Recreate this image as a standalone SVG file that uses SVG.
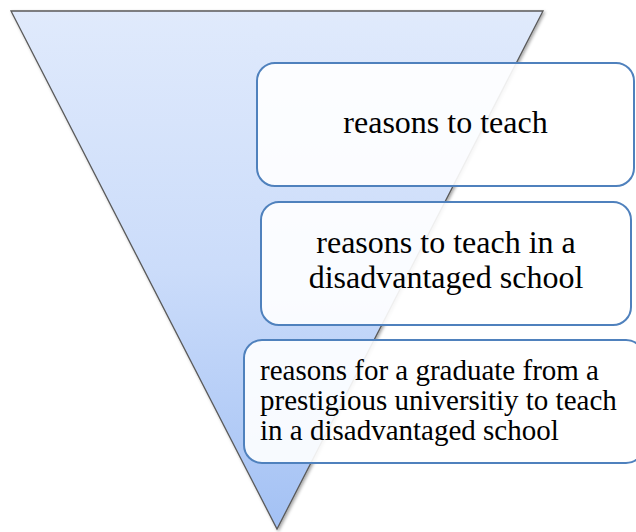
<svg xmlns="http://www.w3.org/2000/svg" width="636" height="532" viewBox="0 0 636 532">
  <defs>
    <linearGradient id="funnelFill" x1="0" y1="0" x2="0" y2="1">
      <stop offset="0" stop-color="#e0eafc"/>
      <stop offset="0.5" stop-color="#cbdcfa"/>
      <stop offset="1" stop-color="#a3c1f4"/>
    </linearGradient>
    <filter id="soft" x="-10%" y="-10%" width="120%" height="120%">
      <feDropShadow dx="1.5" dy="1.5" stdDeviation="1.5" flood-color="#000" flood-opacity="0.35"/>
    </filter>
  </defs>
  <style>
    .box { fill: #ffffff; fill-opacity: 0.9; stroke: #4f81bd; stroke-width: 2; }
    .label { font-family: "Liberation Serif", "Times New Roman", serif; fill: #000; }
  </style>

  <!-- inverted triangle backdrop -->
  <g id="funnel">
    <polygon points="11,11 543,11 277,529" fill="url(#funnelFill)" stroke="#5a5a5a" stroke-width="1.3" filter="url(#soft)"/>
  </g>

  <g id="level1">
    <rect class="box" x="257" y="63" width="377" height="123" rx="18"/>
    <text class="label" x="445.5" y="133" font-size="32" text-anchor="middle">reasons to teach</text>
  </g>

  <g id="level2">
    <rect class="box" x="261" y="202" width="370" height="123" rx="18"/>
    <text class="label" x="446" y="253" font-size="32" text-anchor="middle">reasons to teach in a</text>
    <text class="label" x="446" y="288" font-size="32" text-anchor="middle">disadvantaged school</text>
  </g>

  <g id="level3">
    <rect class="box" x="244" y="340" width="400" height="123" rx="18"/>
    <text class="label" x="260" y="380" font-size="29">reasons for a graduate from a</text>
    <text class="label" x="260" y="410" font-size="29">prestigious universitiy to teach</text>
    <text class="label" x="260" y="440" font-size="29">in a disadvantaged school</text>
  </g>
</svg>
